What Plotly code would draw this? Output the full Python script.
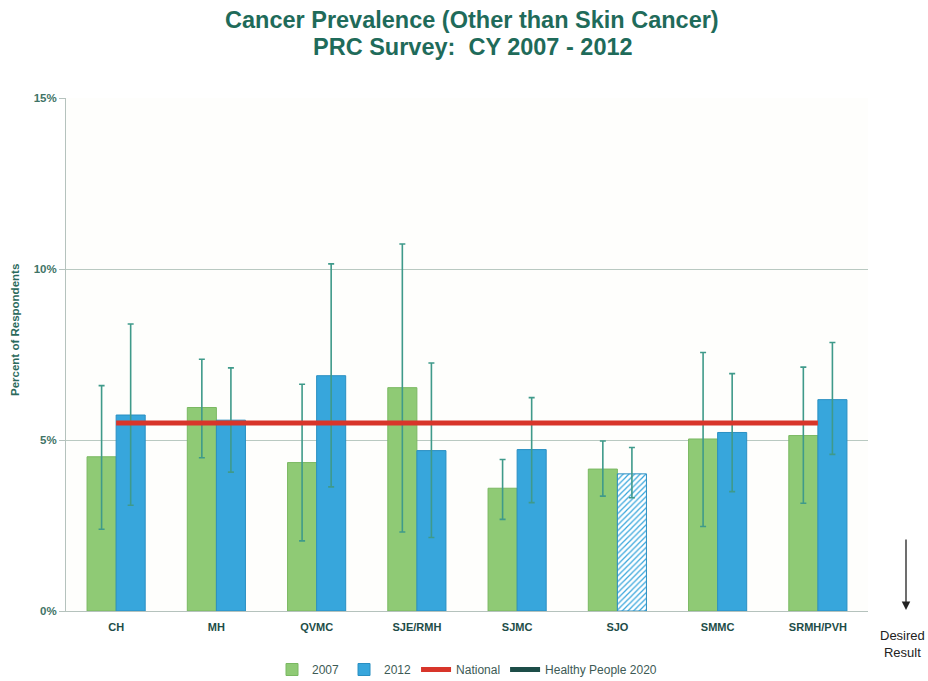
import plotly.graph_objects as go

categories = ["CH", "MH", "QVMC", "SJE/RMH", "SJMC", "SJO", "SMMC", "SRMH/PVH"]
v2007 = [4.51, 5.95, 4.34, 6.53, 3.59, 4.15, 5.03, 5.13]
hi2007 = [6.59, 7.36, 6.63, 10.73, 4.43, 4.97, 7.56, 7.13]
lo2007 = [2.39, 4.48, 2.05, 2.31, 2.68, 3.36, 2.47, 3.15]
v2012 = [5.73, 5.58, 6.88, 4.69, 4.72, 4.01, 5.22, 6.18]
hi2012 = [8.39, 7.11, 10.15, 7.25, 6.24, 4.78, 6.94, 7.85]
lo2012 = [3.09, 4.06, 3.63, 2.15, 3.17, 3.31, 3.49, 4.58]
hatched2012 = ["", "", "", "", "", "/", "", ""]
national = [5.5] * len(categories)
y_ticks = [0, 5, 10, 15]

GREEN = "#8fca75"
BLUE = "#37a6dc"
RED = "#d8352a"
TEAL = "#3f9a8a"
DARK = "#1d4d48"
TXT = "#2b6a5c"
FONT = "Liberation Sans, Arial, Helvetica"

W, H = 928, 681
L, R, T, B = 66, 60, 98, 70
pw, ph = W - L - R, H - T - B


def px(xp):
    return (xp - L) / pw


def py(yp):
    return (H - B - yp) / ph


fig = go.Figure()
fig.add_trace(go.Bar(
    name="2007", x=categories, y=v2007,
    marker=dict(color=GREEN, line=dict(color="#7ab862", width=1)),
    error_y=dict(type="data", symmetric=False,
                 array=[h - v for h, v in zip(hi2007, v2007)],
                 arrayminus=[v - l for v, l in zip(v2007, lo2007)],
                 color=TEAL, thickness=1.6, width=3),
))
fig.add_trace(go.Bar(
    name="2012", x=categories, y=v2012,
    marker=dict(color=BLUE, line=dict(color="#2a8fc2", width=1),
                pattern=dict(shape=hatched2012, fillmode="replace",
                             bgcolor="white", size=4, solidity=0.3)),
    error_y=dict(type="data", symmetric=False,
                 array=[h - v for h, v in zip(hi2012, v2012)],
                 arrayminus=[v - l for v, l in zip(v2012, lo2012)],
                 color=TEAL, thickness=1.6, width=3),
))
fig.add_trace(go.Scatter(
    name="National", x=categories, y=national, mode="lines",
    line=dict(color=RED, width=5),
))
fig.add_trace(go.Scatter(
    name="Healthy People 2020", x=[None], y=[None], mode="lines",
    line=dict(color=DARK, width=5),
))

fig.update_layout(
    width=W, height=H,
    paper_bgcolor="white", plot_bgcolor="#fefefc",
    margin=dict(l=L, r=R, t=T, b=B, autoexpand=False),
    barmode="group", bargap=0.42, bargroupgap=0,
    font=dict(family=FONT),
    showlegend=True,
    legend=dict(orientation="h", x=px(467), xanchor="center", y=py(655), yanchor="top",
                font=dict(size=12, color="#3d5a55"), itemwidth=30,
                traceorder="normal", bgcolor="rgba(0,0,0,0)"),
    xaxis=dict(
        showline=True, linecolor="#b5c2bd", linewidth=1,
        tickfont=dict(size=11, color=DARK),
        tickprefix="<b>", ticksuffix="</b>",
        ticks="outside", ticklen=6, tickcolor="rgba(0,0,0,0)", showgrid=False,
    ),
    yaxis=dict(
        range=[0, 15], tickvals=y_ticks, ticktext=[f"<b>{t}%</b>" for t in y_ticks],
        showgrid=True, gridcolor="#b9c9c1", gridwidth=1.2,
        showline=True, linecolor="#b5c2bd", linewidth=1,
        tickfont=dict(size=11.5, color="#3f7466"),
        ticks="outside", ticklen=6, tickcolor="#b5c2bd",
        zeroline=False,
    ),
)

# Title lines
fig.add_annotation(x=px(472), y=py(20), xref="paper", yref="paper", showarrow=False,
                   text="<b>Cancer Prevalence (Other than Skin Cancer)</b>",
                   font=dict(family=FONT, size=23.5, color="#1f6b5a"),
                   xanchor="center", yanchor="middle")
fig.add_annotation(x=px(473), y=py(47), xref="paper", yref="paper", showarrow=False,
                   text="<b>PRC Survey:&nbsp;&nbsp;CY 2007 - 2012</b>",
                   font=dict(family=FONT, size=23.5, color="#1f6b5a"),
                   xanchor="center", yanchor="middle")

# Y axis title
fig.add_annotation(x=px(15), y=py(330), xref="paper", yref="paper", showarrow=False,
                   text="<b>Percent of Respondents</b>", textangle=-90,
                   font=dict(family=FONT, size=11.5, color=TXT),
                   xanchor="center", yanchor="middle")

# Desired result arrow
fig.add_annotation(
    x=px(906), y=py(610), ax=0, ay=-72,
    xref="paper", yref="paper",
    showarrow=True, arrowhead=2, arrowsize=1.3, arrowwidth=1.3, arrowcolor="#222", text="",
)
fig.add_annotation(
    x=px(903), y=py(644), xref="paper", yref="paper",
    text="Desired<br>Result", showarrow=False,
    font=dict(size=13, color="#222", family=FONT),
    xanchor="center", yanchor="middle",
)

fig.write_html("out.html", config={"displayModeBar": False},
               post_script="document.body.style.margin='0px';")
